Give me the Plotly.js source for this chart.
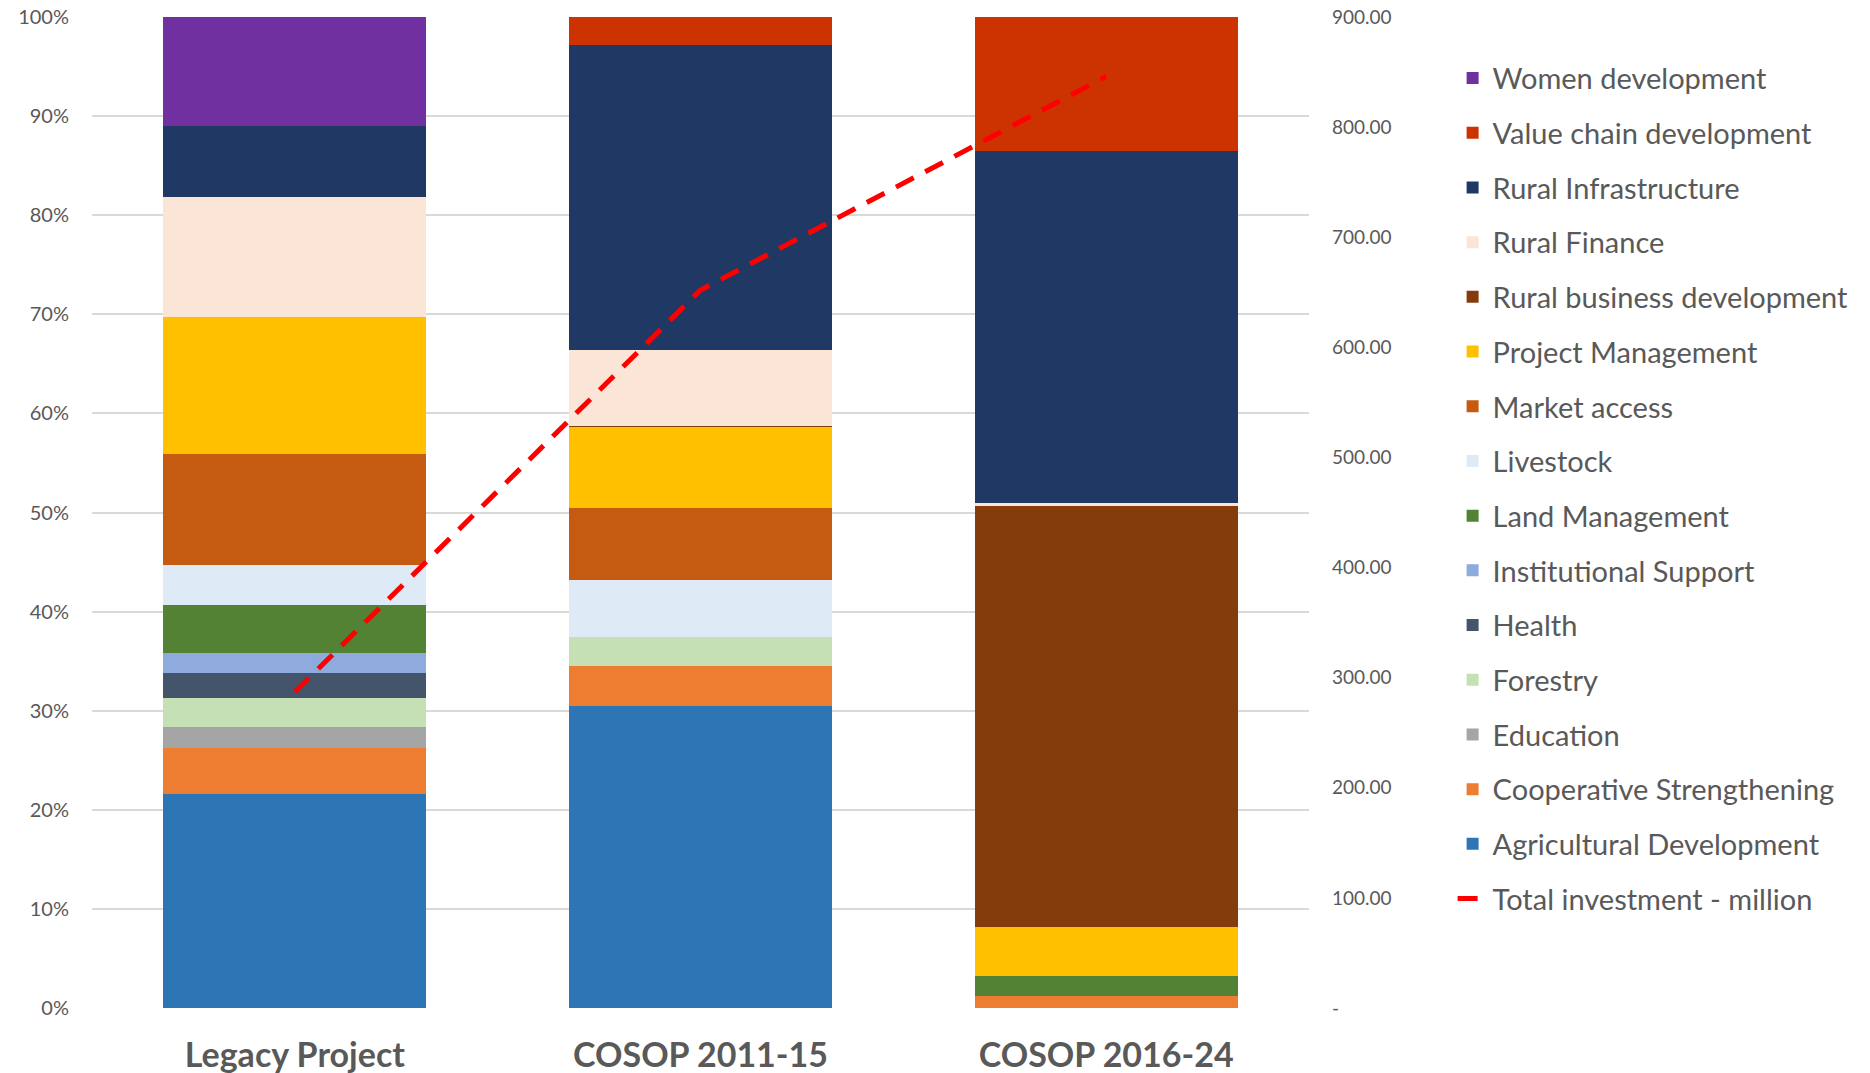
<!DOCTYPE html>
<html>
<head>
<meta charset="utf-8">
<script src="https://cdn.plot.ly/plotly-3.0.1.min.js"></script>
<style>
html,body{margin:0;padding:0;background:#fff;}
#chart{width:1870px;height:1073px;}
</style>
</head>
<body>
<div id="chart"></div>
<script>
// Categories (programme periods)
const categories = ['Legacy Project', 'COSOP 2011-15', 'COSOP 2016-24'];

// Share of investment by theme (% of each period)
const agriculturalDevelopment  = [21.58, 30.54, 0];
const cooperativeStrengthening = [4.65, 4.03, 1.19];
const education                = [2.14, 0, 0];
const forestry                 = [2.87, 2.87, 0];
const health                   = [2.53, 0, 0];
const institutionalSupport     = [2.03, 0, 0];
const landManagement           = [4.87, 0, 2.00];
const livestock                = [3.99, 5.75, 0];
const marketAccess             = [11.25, 7.30, 0];
const projectManagement        = [13.83, 8.20, 4.94];
const ruralBusinessDevelopment = [0, 0.10, 42.53];
const ruralFinance             = [12.12, 7.63, 0.28];
const ruralInfrastructure      = [7.19, 30.85, 35.54];
const valueChainDevelopment    = [0, 2.78, 13.52];
const womenDevelopment         = [10.95, 0, 0];

// Total investment (million) on the right axis
const totalInvestment = [287, 652, 846];

// Tick labels
const leftTickVals  = [0, 10, 20, 30, 40, 50, 60, 70, 80, 90, 100];
const leftTickText  = ['0%', '10%', '20%', '30%', '40%', '50%', '60%', '70%', '80%', '90%', '100%'];
const rightTickVals = [0, 100, 200, 300, 400, 500, 600, 700, 800, 900];
const rightTickText = ['-', '100.00', '200.00', '300.00', '400.00', '500.00', '600.00', '700.00', '800.00', '900.00'];

const seriesNames = [
  'Agricultural Development', 'Cooperative Strengthening', 'Education', 'Forestry', 'Health',
  'Institutional Support', 'Land Management', 'Livestock', 'Market access', 'Project Management',
  'Rural business development', 'Rural Finance', 'Rural Infrastructure', 'Value chain development',
  'Women development'
];
const seriesValues = [
  agriculturalDevelopment, cooperativeStrengthening, education, forestry, health,
  institutionalSupport, landManagement, livestock, marketAccess, projectManagement,
  ruralBusinessDevelopment, ruralFinance, ruralInfrastructure, valueChainDevelopment,
  womenDevelopment
];
const seriesColors = [
  '#2E75B6', '#ED7D31', '#A5A5A5', '#C5E0B4', '#44546A',
  '#8FAADC', '#548235', '#DEEBF7', '#C55A11', '#FFC000',
  '#843C0C', '#FBE5D6', '#203864', '#CC3300',
  '#7030A0'
];

const FONT = 'Lato, "Open Sans", sans-serif';
const TXT = '#595959';

const traces = seriesNames.map((name, i) => ({
  type: 'bar',
  name: name,
  x: categories,
  y: seriesValues[i],
  marker: { color: seriesColors[i], line: { width: 0 } },
  legendgroup: 'g' + i,
  legendrank: 100 - i,
  hovertemplate: '%{x}<br>' + name + ': %{y:.1f}%<extra></extra>'
}));

traces.push({
  type: 'scatter',
  mode: 'lines',
  name: 'Total investment - million',
  x: categories,
  y: totalInvestment,
  yaxis: 'y2',
  line: { color: '#FF0000', width: 5, dash: '20px,13px' },
  legendgroup: 'total',
  legendrank: 200
});

const layout = {
  width: 1870,
  height: 1073,
  paper_bgcolor: '#ffffff',
  plot_bgcolor: '#ffffff',
  margin: { l: 92, r: 561, t: 17, b: 65 },
  barmode: 'stack',
  barnorm: 'percent',
  bargap: 0.352,
  font: { family: FONT, color: TXT },
  showlegend: true,
  legend: {
    x: 1.118, xanchor: 'left',
    y: 0.964, yanchor: 'top',
    traceorder: 'grouped',
    tracegroupgap: 14,
    font: { family: FONT, size: 29, color: TXT },
    bgcolor: 'rgba(0,0,0,0)',
    itemclick: 'toggle'
  },
  xaxis: {
    type: 'category',
    showgrid: false,
    showline: false,
    zeroline: false,
    ticks: '',
    ticklabelstandoff: 24,
    tickfont: { family: FONT, size: 34, color: TXT, weight: 700 }
  },
  yaxis: {
    range: [0, 100],
    tickvals: leftTickVals,
    ticktext: leftTickText,
    showgrid: true,
    gridcolor: '#D9D9D9',
    gridwidth: 1.5,
    zeroline: false,
    showline: false,
    ticks: '',
    ticklabelstandoff: 22,
    tickfont: { family: FONT, size: 20, color: TXT }
  },
  yaxis2: {
    overlaying: 'y',
    side: 'right',
    range: [0, 900],
    tickvals: rightTickVals,
    ticktext: rightTickText,
    showgrid: false,
    zeroline: false,
    showline: false,
    ticks: '',
    ticklabelstandoff: 22,
    tickfont: { family: FONT, size: 19, color: TXT }
  }
};

Plotly.newPlot('chart', traces, layout, { displayModeBar: false });
</script>
</body>
</html>
